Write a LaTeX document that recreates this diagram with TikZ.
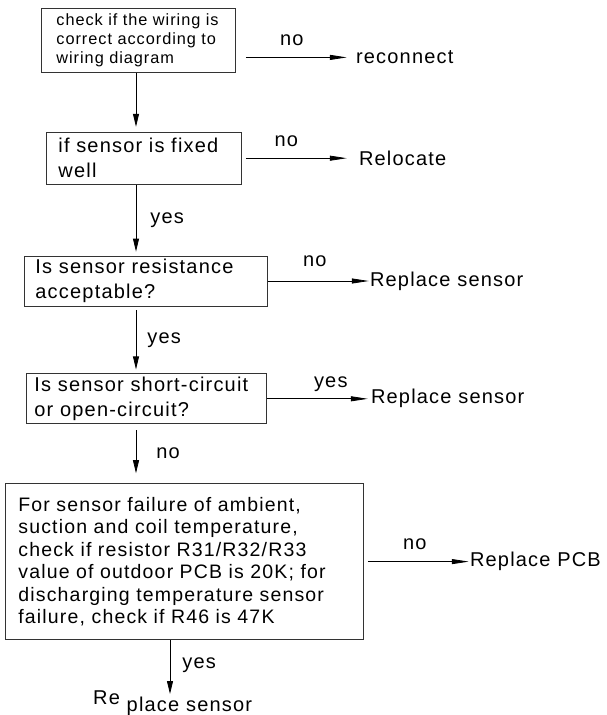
\documentclass[tikz,border=0pt]{standalone}
\usepackage{fontspec}
\setmainfont{Liberation Sans}[LetterSpace=6]
\usetikzlibrary{arrows.meta,positioning}

\begin{document}
\begin{tikzpicture}[x=1pt, y=1pt,
  box/.style={rectangle, draw=black!80, line width=0.8pt, align=left, inner ysep=2pt, font=\fontsize{20}{25}\selectfont},
  lbl/.style={inner sep=0pt, font=\fontsize{20}{24}\selectfont},
  arr/.style={-{Triangle[length=13pt,width=6pt]}, line width=0.8pt},
  harr/.style={-{Triangle[length=17pt,width=5pt]}, line width=0.8pt}
]
\useasboundingbox (0,0) rectangle (606,-715);
\coordinate (spine) at (136,0);
\coordinate (spineb) at (170,0);
\node[box, anchor=north west, text width=170pt, inner xsep=12pt, minimum height=64pt, font=\fontsize{16.3}{19}\selectfont] (a) at (41,-8) {\hspace*{3pt}check if the wiring is\\\hspace*{3pt}correct according to\\\hspace*{3pt}wiring diagram};
\node[box, below right=59pt and 5pt of a.south west, text width=171pt, inner xsep=12pt, minimum height=52pt] (b) {if sensor is fixed\\well};
\node[box, below right=71pt and -22pt of b.south west, text width=221pt, inner xsep=11pt, minimum height=50pt] (c) {Is sensor resistance\\acceptable?};
\node[box, below right=67pt and 2pt of c.south west, text width=224pt, inner xsep=8pt, minimum height=50pt] (d) {Is sensor short-circuit\\or open-circuit?};
\node[box, below right=59pt and -21pt of d.south west, text width=332pt, inner xsep=13pt, minimum height=156pt, font=\fontsize{19.5}{22.5}\selectfont] (e) {For sensor failure of ambient,\\suction and coil temperature,\\check if resistor R31/R32/R33\\value of outdoor PCB is 20K; for\\discharging temperature sensor\\failure, check if R46 is 47K};
% outcomes
\node[lbl, right=120pt of a.east, yshift=-17pt] (na) {reconnect};
\node[lbl, right=117pt of b.east] (nb) {Relocate};
\node[lbl, right=102pt of c.east] (nc) {Replace sensor};
\node[lbl, right=104pt of d.east] (nd) {Replace sensor};
\node[lbl, right=106pt of e.east] (ne) {Replace PCB};
\node[lbl, below right=51pt and 88pt of e.south west] (f) {Re \raisebox{-7pt}{place sensor}};
% down the main line
\draw[arr, shorten >=5pt] (a.south -| spine) -- (b.north -| spine);
\draw[arr, shorten >=4pt] (b.south -| spine) -- node[lbl, right=14pt] {yes} (c.north -| spine);
\draw[arr, shorten <=4pt, shorten >=4pt] (c.south -| spine) -- node[lbl, right=11pt] {yes} (d.north -| spine);
\draw[arr, shorten <=6pt, shorten >=10pt] (d.south -| spine) -- node[lbl, right=20pt] {no} (e.north -| spine);
\draw[arr, shorten >=-3pt] (e.south -| spineb) -- node[lbl, right=12pt] {yes} (f.north -| spineb);
% side exits
\draw[harr, shorten <=10pt, shorten >=9pt] (a.east |- na.west) -- node[lbl, above=11pt, xshift=-4pt] {no} (na.west);
\draw[harr, shorten <=4pt, shorten >=12pt] (b.east |- nb.west) -- node[lbl, above=11pt, xshift=-14pt] {no} (nb.west);
\draw[harr, shorten >=1pt] (c.east) -- node[lbl, above=14pt, xshift=-4pt] {no} (nc.west);
\draw[harr, shorten >=3pt] (d.east) -- node[lbl, above=7pt, xshift=12pt] {yes} (nd.west);
\draw[harr, shorten <=4pt, shorten >=1pt] (e.east) -- node[lbl, above=12pt, xshift=-2pt] {no} (ne.west);
\end{tikzpicture}
\end{document}
